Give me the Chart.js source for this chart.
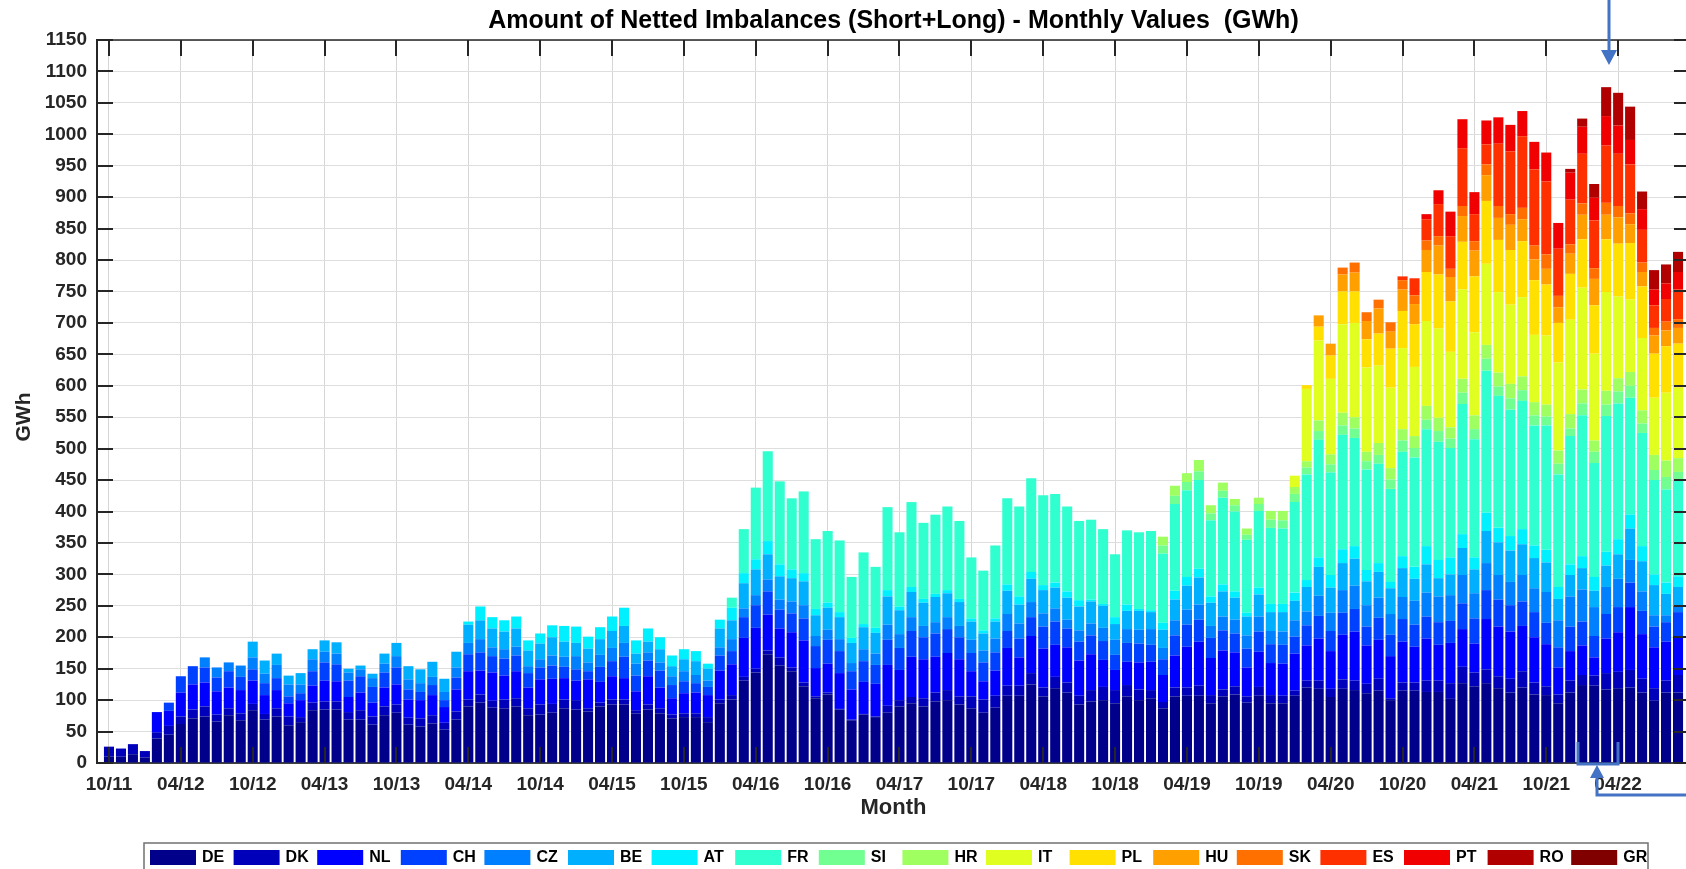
<!DOCTYPE html>
<html>
<head>
<meta charset="utf-8">
<title>Amount of Netted Imbalances</title>
<script src="https://cdn.jsdelivr.net/npm/chart.js@4.4.0/dist/chart.umd.min.js"></script>
<style>
  html, body { margin: 0; padding: 0; overflow: hidden; background: #fff; }
  #wrap { width: 1700px; height: 869px; }
</style>
</head>
<body>
<div id="wrap"><canvas id="imbChart" width="1700" height="869"></canvas></div>
<script>
// month labels 09/11 .. 10/22 (first and last are empty padding months)
const months = [];
for (let y = 2011, m = 9; y < 2022 || m <= 10; ) {
  months.push(String(m).padStart(2, '0') + '/' + String(y).slice(2));
  m++;
  if (m > 12) { m = 1; y++; }
}

const seriesNames = ['DE', 'DK', 'NL', 'CH', 'CZ', 'BE', 'AT', 'FR', 'SI', 'HR', 'IT', 'PL', 'HU', 'SK', 'ES', 'PT', 'RO', 'GR'];
const seriesColors = ['#00008a', '#0000bb', '#0000ff', '#0040ff', '#0080ff', '#00b0ff', '#00f0ff', '#30ffd0', '#70ff90',
  '#a0ff60', '#e0ff20', '#ffe000', '#ffa000', '#ff7000', '#ff3000', '#f00000', '#b00000', '#800000'];

// GWh per month, 10/11 .. 09/22 (one row per calendar year)
const DE = [
  10, 10, 14,
  9, 39, 45, 62, 71, 74, 66, 76, 68, 84, 69, 74,
  60, 65, 84, 85, 85, 69, 69, 61, 76, 80, 61, 58,
  63, 53, 69, 90, 96, 88, 87, 90, 76, 77, 80, 87,
  85, 82, 90, 93, 93, 79, 85, 79, 71, 73, 73, 65,
  95, 101, 131, 144, 173, 155, 146, 122, 103, 109, 85, 68,
  77, 73, 80, 90, 95, 90, 98, 100, 93, 87, 80, 88,
  107, 107, 125, 106, 119, 112, 93, 98, 100, 95, 106, 100,
  103, 87, 106, 107, 107, 95, 106, 109, 96, 107, 95, 95,
  107, 120, 118, 105, 118, 116, 111, 115, 100, 115, 115, 113,
  113, 102, 127, 122, 127, 119, 112, 120, 109, 108, 95, 112,
  124, 123, 117, 119, 120, 112, 99, 112, 112
];
const DK = [
  16, 13, 16,
  10, 10, 14, 12, 14, 16, 11, 11, 11, 10, 9, 13,
  14, 8, 12, 13, 13, 12, 15, 13, 14, 13, 11, 13,
  13, 11, 13, 11, 13, 11, 14, 13, 11, 16, 14, 14,
  15, 5, 6, 8, 8, 5, 8, 8, 6, 6, 6, 8,
  6, 7, 6, 6, 6, 13, 6, 6, 3, 3, 1, 1,
  1, 1, 11, 10, 10, 13, 14, 16, 13, 19, 21, 19,
  16, 16, 18, 14, 18, 16, 14, 18, 21, 21, 18, 17,
  13, 10, 14, 13, 16, 13, 11, 13, 10, 14, 13, 12,
  8, 11, 13, 13, 15, 15, 15, 19, 3, 13, 13, 18,
  18, 25, 26, 22, 22, 19, 22, 26, 19, 14, 14, 19,
  16, 16, 26, 26, 28, 22, 20, 19, 28
];
const NL = [
  0, 0, 0,
  0, 32, 24, 38, 40, 38, 37, 33, 37, 37, 30, 29,
  21, 27, 27, 33, 32, 24, 28, 22, 30, 32, 29, 29,
  32, 25, 35, 45, 38, 45, 38, 43, 33, 40, 40, 34,
  31, 46, 33, 37, 34, 30, 45, 33, 26, 32, 33, 35,
  46, 49, 62, 65, 57, 46, 56, 67, 45, 46, 57, 48,
  51, 52, 65, 48, 64, 62, 57, 59, 59, 40, 29, 40,
  60, 45, 59, 62, 51, 56, 56, 57, 43, 32, 37, 43,
  45, 43, 51, 65, 70, 59, 62, 54, 46, 56, 51, 51,
  59, 56, 67, 60, 71, 78, 61, 62, 67, 65, 57, 67,
  57, 64, 60, 46, 80, 79, 75, 72, 72, 67, 43, 47,
  47, 29, 55, 63, 100, 71, 65, 62, 62
];
const CH = [
  0, 0, 0,
  0, 0, 13, 26, 29, 24, 22, 26, 21, 18, 19, 19,
  11, 11, 23, 29, 27, 26, 26, 25, 24, 27, 16, 13,
  16, 11, 19, 27, 29, 26, 27, 25, 23, 19, 21, 18,
  18, 13, 24, 24, 34, 25, 25, 27, 21, 19, 15, 13,
  24, 21, 33, 36, 37, 30, 30, 35, 35, 38, 35, 29,
  33, 30, 40, 35, 41, 35, 37, 38, 35, 29, 30, 29,
  27, 30, 30, 35, 37, 30, 30, 30, 30, 24, 30, 30,
  27, 25, 32, 35, 35, 32, 32, 30, 30, 32, 30, 30,
  27, 32, 36, 32, 35, 36, 30, 35, 34, 36, 35, 35,
  36, 35, 41, 40, 46, 43, 42, 39, 40, 34, 32, 39,
  38, 34, 39, 40, 39, 37, 33, 31, 38
];
const CZ = [
  0, 0, 0,
  0, 0, 0, 0, 0, 16, 16, 14, 18, 19, 15, 21,
  19, 14, 19, 17, 17, 13, 11, 14, 14, 18, 16, 14,
  13, 13, 16, 18, 21, 14, 15, 14, 11, 13, 16, 16,
  21, 14, 19, 21, 22, 19, 13, 13, 14, 16, 13, 10,
  13, 19, 14, 16, 19, 16, 19, 21, 16, 16, 19, 13,
  19, 18, 24, 22, 22, 18, 18, 19, 18, 21, 19, 22,
  27, 24, 24, 21, 21, 14, 18, 19, 21, 24, 22, 22,
  25, 18, 24, 24, 24, 19, 22, 22, 21, 24, 21, 21,
  26, 22, 32, 29, 36, 37, 34, 32, 33, 35, 38, 38,
  41, 41, 45, 40, 43, 39, 37, 42, 38, 49, 43, 48,
  51, 46, 43, 45, 36, 31, 18, 11, 10
];
const BE = [
  0, 0, 0,
  0, 0, 0, 0, 0, 0, 0, 0, 0, 25, 21, 18,
  14, 18, 16, 18, 18, 6, 6, 7, 16, 21, 21, 22,
  24, 21, 25, 29, 30, 30, 28, 29, 25, 25, 29, 24,
  21, 22, 25, 27, 27, 16, 17, 21, 16, 19, 22, 19,
  30, 30, 40, 41, 40, 37, 37, 38, 33, 35, 35, 32,
  35, 33, 45, 38, 40, 37, 40, 38, 38, 29, 27, 27,
  37, 30, 37, 37, 33, 35, 38, 35, 35, 25, 29, 30,
  27, 29, 33, 38, 43, 37, 40, 35, 30, 35, 30, 31,
  31, 39, 46, 40, 43, 43, 38, 41, 41, 46, 35, 45,
  29, 33, 43, 38, 51, 52, 50, 49, 48, 47, 34, 34,
  34, 26, 34, 39, 50, 48, 48, 34, 30
];
const AT = [
  0, 0, 0,
  0, 0, 0, 0, 0, 0, 0, 0, 0, 0, 0, 0,
  0, 0, 0, 0, 0, 0, 0, 0, 0, 0, 0, 0,
  0, 0, 0, 5, 22, 18, 18, 19, 16, 16, 19, 25,
  26, 19, 19, 23, 29, 21, 21, 19, 17, 16, 16, 8,
  14, 20, 16, 16, 21, 19, 14, 13, 10, 8, 8, 8,
  5, 8, 10, 6, 8, 6, 5, 5, 5, 5, 5, 5,
  10, 13, 11, 8, 8, 10, 10, 3, 3, 11, 10, 3,
  3, 11, 14, 14, 14, 10, 11, 10, 6, 11, 13, 13,
  13, 11, 15, 20, 22, 20, 18, 14, 10, 19, 19, 29,
  29, 27, 22, 19, 29, 23, 23, 24, 20, 20, 19, 17,
  19, 22, 22, 24, 22, 24, 17, 18, 17
];
const FR = [
  0, 0, 0,
  0, 0, 0, 0, 0, 0, 0, 0, 0, 0, 0, 0,
  0, 0, 0, 0, 0, 0, 0, 0, 0, 0, 0, 0,
  0, 0, 0, 0, 0, 0, 0, 0, 0, 0, 0, 0,
  0, 0, 0, 0, 0, 0, 0, 0, 0, 0, 0, 0,
  0, 16, 70, 114, 143, 132, 113, 130, 111, 114, 114, 97,
  114, 97, 132, 118, 135, 121, 126, 133, 124, 97, 95, 116,
  137, 143, 149, 143, 141, 135, 126, 127, 119, 100, 118, 122,
  126, 110, 138, 138, 141, 121, 138, 127, 116, 122, 121, 120,
  144, 168, 187, 163, 182, 172, 160, 158, 148, 166, 174, 186,
  188, 174, 207, 188, 226, 210, 201, 204, 191, 198, 179, 204,
  224, 181, 216, 216, 186, 180, 150, 148, 154
];
const SI = [
  0, 0, 0,
  0, 0, 0, 0, 0, 0, 0, 0, 0, 0, 0, 0,
  0, 0, 0, 0, 0, 0, 0, 0, 0, 0, 0, 0,
  0, 0, 0, 0, 0, 0, 0, 0, 0, 0, 0, 0,
  0, 0, 0, 0, 0, 0, 0, 0, 0, 0, 0, 0,
  0, 0, 0, 0, 0, 0, 0, 0, 0, 0, 0, 0,
  0, 0, 0, 0, 0, 0, 0, 0, 0, 0, 0, 0,
  0, 0, 0, 0, 0, 0, 0, 0, 0, 0, 0, 0,
  0, 13, 13, 13, 14, 11, 11, 10, 8, 11, 13, 13,
  13, 11, 14, 13, 15, 15, 13, 14, 15, 18, 15, 15,
  17, 15, 18, 16, 19, 15, 18, 17, 16, 14, 17, 12,
  19, 18, 18, 19, 19, 15, 16, 20, 12
];
const HR = [
  0, 0, 0,
  0, 0, 0, 0, 0, 0, 0, 0, 0, 0, 0, 0,
  0, 0, 0, 0, 0, 0, 0, 0, 0, 0, 0, 0,
  0, 0, 0, 0, 0, 0, 0, 0, 0, 0, 0, 0,
  0, 0, 0, 0, 0, 0, 0, 0, 0, 0, 0, 0,
  0, 0, 0, 0, 0, 0, 0, 0, 0, 0, 0, 0,
  0, 0, 0, 0, 0, 0, 0, 0, 0, 0, 0, 0,
  0, 0, 0, 0, 0, 0, 0, 0, 0, 0, 0, 0,
  0, 14, 16, 14, 18, 13, 13, 10, 10, 10, 14, 15,
  11, 10, 17, 16, 20, 18, 15, 19, 18, 18, 19, 22,
  21, 18, 22, 22, 22, 22, 23, 22, 21, 19, 21, 23,
  22, 18, 22, 21, 22, 21, 24, 26, 22
];
const IT = [
  0, 0, 0,
  0, 0, 0, 0, 0, 0, 0, 0, 0, 0, 0, 0,
  0, 0, 0, 0, 0, 0, 0, 0, 0, 0, 0, 0,
  0, 0, 0, 0, 0, 0, 0, 0, 0, 0, 0, 0,
  0, 0, 0, 0, 0, 0, 0, 0, 0, 0, 0, 0,
  0, 0, 0, 0, 0, 0, 0, 0, 0, 0, 0, 0,
  0, 0, 0, 0, 0, 0, 0, 0, 0, 0, 0, 0,
  0, 0, 0, 0, 0, 0, 0, 0, 0, 0, 0, 0,
  0, 0, 0, 0, 0, 0, 0, 0, 0, 0, 0, 0,
  18, 115, 127, 120, 141, 150, 134, 123, 128, 129, 110, 135,
  142, 120, 142, 132, 129, 128, 126, 126, 107, 110, 140, 150,
  162, 138, 157, 130, 115, 115, 91, 108, 112
];
const PL = [
  0, 0, 0,
  0, 0, 0, 0, 0, 0, 0, 0, 0, 0, 0, 0,
  0, 0, 0, 0, 0, 0, 0, 0, 0, 0, 0, 0,
  0, 0, 0, 0, 0, 0, 0, 0, 0, 0, 0, 0,
  0, 0, 0, 0, 0, 0, 0, 0, 0, 0, 0, 0,
  0, 0, 0, 0, 0, 0, 0, 0, 0, 0, 0, 0,
  0, 0, 0, 0, 0, 0, 0, 0, 0, 0, 0, 0,
  0, 0, 0, 0, 0, 0, 0, 0, 0, 0, 0, 0,
  0, 0, 0, 0, 0, 0, 0, 0, 0, 0, 0, 0,
  0, 6, 22, 37, 52, 50, 45, 51, 62, 59, 68, 78,
  86, 80, 76, 89, 100, 83, 87, 89, 87, 81, 63, 73,
  77, 77, 84, 84, 90, 82, 70, 74, 70
];
const HU = [
  0, 0, 0,
  0, 0, 0, 0, 0, 0, 0, 0, 0, 0, 0, 0,
  0, 0, 0, 0, 0, 0, 0, 0, 0, 0, 0, 0,
  0, 0, 0, 0, 0, 0, 0, 0, 0, 0, 0, 0,
  0, 0, 0, 0, 0, 0, 0, 0, 0, 0, 0, 0,
  0, 0, 0, 0, 0, 0, 0, 0, 0, 0, 0, 0,
  0, 0, 0, 0, 0, 0, 0, 0, 0, 0, 0, 0,
  0, 0, 0, 0, 0, 0, 0, 0, 0, 0, 0, 0,
  0, 0, 0, 0, 0, 0, 0, 0, 0, 0, 0, 0,
  0, 0, 18, 19, 27, 30, 29, 40, 27, 34, 32, 35,
  46, 39, 41, 41, 41, 35, 40, 35, 33, 25, 25, 32,
  39, 42, 39, 42, 30, 23, 29, 25, 25
];
const SK = [
  0, 0, 0,
  0, 0, 0, 0, 0, 0, 0, 0, 0, 0, 0, 0,
  0, 0, 0, 0, 0, 0, 0, 0, 0, 0, 0, 0,
  0, 0, 0, 0, 0, 0, 0, 0, 0, 0, 0, 0,
  0, 0, 0, 0, 0, 0, 0, 0, 0, 0, 0, 0,
  0, 0, 0, 0, 0, 0, 0, 0, 0, 0, 0, 0,
  0, 0, 0, 0, 0, 0, 0, 0, 0, 0, 0, 0,
  0, 0, 0, 0, 0, 0, 0, 0, 0, 0, 0, 0,
  0, 0, 0, 0, 0, 0, 0, 0, 0, 0, 0, 0,
  0, 0, 0, 0, 11, 16, 14, 14, 15, 15, 14, 15,
  15, 13, 16, 15, 17, 19, 17, 18, 22, 23, 18, 15,
  18, 17, 19, 18, 17, 15, 12, 14, 14
];
const ES = [
  0, 0, 0,
  0, 0, 0, 0, 0, 0, 0, 0, 0, 0, 0, 0,
  0, 0, 0, 0, 0, 0, 0, 0, 0, 0, 0, 0,
  0, 0, 0, 0, 0, 0, 0, 0, 0, 0, 0, 0,
  0, 0, 0, 0, 0, 0, 0, 0, 0, 0, 0, 0,
  0, 0, 0, 0, 0, 0, 0, 0, 0, 0, 0, 0,
  0, 0, 0, 0, 0, 0, 0, 0, 0, 0, 0, 0,
  0, 0, 0, 0, 0, 0, 0, 0, 0, 0, 0, 0,
  0, 0, 0, 0, 0, 0, 0, 0, 0, 0, 0, 0,
  0, 0, 0, 0, 0, 0, 0, 0, 0, 6, 27, 34,
  51, 52, 92, 43, 32, 99, 100, 114, 121, 116, 75, 71,
  79, 76, 91, 83, 78, 52, 36, 36, 47
];
const PT = [
  0, 0, 0,
  0, 0, 0, 0, 0, 0, 0, 0, 0, 0, 0, 0,
  0, 0, 0, 0, 0, 0, 0, 0, 0, 0, 0, 0,
  0, 0, 0, 0, 0, 0, 0, 0, 0, 0, 0, 0,
  0, 0, 0, 0, 0, 0, 0, 0, 0, 0, 0, 0,
  0, 0, 0, 0, 0, 0, 0, 0, 0, 0, 0, 0,
  0, 0, 0, 0, 0, 0, 0, 0, 0, 0, 0, 0,
  0, 0, 0, 0, 0, 0, 0, 0, 0, 0, 0, 0,
  0, 0, 0, 0, 0, 0, 0, 0, 0, 0, 0, 0,
  0, 0, 0, 0, 0, 0, 0, 0, 0, 0, 0, 8,
  22, 39, 46, 35, 38, 42, 42, 40, 44, 46, 41, 43,
  43, 36, 47, 45, 39, 33, 25, 25, 28
];
const RO = [
  0, 0, 0,
  0, 0, 0, 0, 0, 0, 0, 0, 0, 0, 0, 0,
  0, 0, 0, 0, 0, 0, 0, 0, 0, 0, 0, 0,
  0, 0, 0, 0, 0, 0, 0, 0, 0, 0, 0, 0,
  0, 0, 0, 0, 0, 0, 0, 0, 0, 0, 0, 0,
  0, 0, 0, 0, 0, 0, 0, 0, 0, 0, 0, 0,
  0, 0, 0, 0, 0, 0, 0, 0, 0, 0, 0, 0,
  0, 0, 0, 0, 0, 0, 0, 0, 0, 0, 0, 0,
  0, 0, 0, 0, 0, 0, 0, 0, 0, 0, 0, 0,
  0, 0, 0, 0, 0, 0, 0, 0, 0, 0, 0, 0,
  0, 0, 0, 0, 0, 0, 0, 0, 0, 0, 0, 6,
  13, 22, 46, 52, 53, 28, 31, 30, 32
];
const GR = [
  0, 0, 0,
  0, 0, 0, 0, 0, 0, 0, 0, 0, 0, 0, 0,
  0, 0, 0, 0, 0, 0, 0, 0, 0, 0, 0, 0,
  0, 0, 0, 0, 0, 0, 0, 0, 0, 0, 0, 0,
  0, 0, 0, 0, 0, 0, 0, 0, 0, 0, 0, 0,
  0, 0, 0, 0, 0, 0, 0, 0, 0, 0, 0, 0,
  0, 0, 0, 0, 0, 0, 0, 0, 0, 0, 0, 0,
  0, 0, 0, 0, 0, 0, 0, 0, 0, 0, 0, 0,
  0, 0, 0, 0, 0, 0, 0, 0, 0, 0, 0, 0,
  0, 0, 0, 0, 0, 0, 0, 0, 0, 0, 0, 0,
  0, 0, 0, 0, 0, 0, 0, 0, 0, 0, 0, 0,
  0, 0, 0, 0, 0, 0, 0, 0, 0
];

const yTicks = [];
for (let v = 0; v <= 1150; v += 50) yTicks.push(v);

const seriesData = [DE, DK, NL, CH, CZ, BE, AT, FR, SI, HR, IT, PL, HU, SK, ES, PT, RO, GR];
const FONT = '"Liberation Sans", Arial, Helvetica, sans-serif';
const isMarked = (lbl) => lbl && (lbl.startsWith('04/') || lbl.startsWith('10/')) && lbl !== '10/22';

const datasets = seriesNames.map((name, i) => ({
  label: name,
  // pad month 09/11 in front and 10/22 at the end
  data: [null].concat(seriesData[i], [null]),
  backgroundColor: seriesColors[i],
  borderWidth: 0,
  barPercentage: 0.84,
  categoryPercentage: 1.0
}));

// MATLAB-like frame: inward ticks, title, legend box, blue annotations
const framePlugin = {
  id: 'frame',
  afterDraw(chart) {
    const ctx = chart.ctx;
    const a = chart.chartArea;
    const xs = chart.scales.x, ys = chart.scales.y;
    ctx.save();

    // top + right border
    ctx.strokeStyle = '#262626';
    ctx.lineWidth = 1.5;
    ctx.beginPath();
    ctx.moveTo(a.left, a.top); ctx.lineTo(a.right, a.top); ctx.lineTo(a.right, a.bottom);
    ctx.stroke();

    // inward ticks
    ctx.lineWidth = 2;
    ctx.beginPath();
    yTicks.forEach(v => {
      const y = Math.round(ys.getPixelForValue(v));
      ctx.moveTo(a.left, y); ctx.lineTo(a.left + 16, y);
      ctx.moveTo(a.right, y); ctx.lineTo(a.right - 16, y);
    });
    months.forEach((m, i) => {
      if (!isMarked(m)) return;
      const x = Math.round(xs.getPixelForValue(i));
      ctx.moveTo(x, a.bottom); ctx.lineTo(x, a.bottom - 16);
      ctx.moveTo(x, a.top); ctx.lineTo(x, a.top + 16);
    });
    ctx.stroke();

    // title
    ctx.fillStyle = '#000';
    ctx.font = 'bold 25px ' + FONT;
    ctx.textAlign = 'center';
    ctx.textBaseline = 'middle';
    ctx.fillText('Amount of Netted Imbalances (Short+Long) - Monthly Values  (GWh)', (a.left + a.right) / 2, 21);

    // y axis title
    ctx.save();
    ctx.translate(24, 417);
    ctx.rotate(-Math.PI / 2);
    ctx.fillStyle = '#262626';
    ctx.font = 'bold 21px ' + FONT;
    ctx.fillText('GWh', 0, 0);
    ctx.restore();

    // legend
    const lgLeft = 144, lgTop = 843, lgRight = 1648;
    ctx.fillStyle = '#fff';
    ctx.fillRect(lgLeft, lgTop, lgRight - lgLeft, 40);
    ctx.strokeStyle = '#707070';
    ctx.lineWidth = 1.5;
    ctx.strokeRect(lgLeft, lgTop, lgRight - lgLeft, 40);
    ctx.font = 'bold 16px ' + FONT;
    ctx.textAlign = 'left';
    seriesNames.forEach((name, i) => {
      const x = 150 + i * 83.6;
      ctx.fillStyle = seriesColors[i];
      ctx.fillRect(x, 850, 46, 15);
      ctx.fillStyle = '#000';
      ctx.fillText(name, x + 52, 858);
    });

    // blue annotation marks
    ctx.strokeStyle = '#4472c4';
    ctx.fillStyle = '#4472c4';
    ctx.lineWidth = 3;
    ctx.beginPath();
    ctx.moveTo(1609, 0); ctx.lineTo(1609, 52);
    ctx.moveTo(1578, 742); ctx.lineTo(1578, 764); ctx.lineTo(1618, 764); ctx.lineTo(1618, 742);
    ctx.moveTo(1597, 776); ctx.lineTo(1597, 795); ctx.lineTo(1700, 795);
    ctx.stroke();
    ctx.beginPath();
    ctx.moveTo(1601, 50); ctx.lineTo(1617, 50); ctx.lineTo(1609, 65); ctx.closePath();
    ctx.moveTo(1597, 765); ctx.lineTo(1590, 778); ctx.lineTo(1604, 778); ctx.closePath();
    ctx.fill();

    ctx.restore();
  }
};

new Chart(document.getElementById('imbChart'), {
  type: 'bar',
  data: { labels: months, datasets: datasets },
  options: {
    responsive: false,
    animation: false,
    devicePixelRatio: 1,
    layout: { padding: { top: 40, right: 6, left: 0, bottom: 0 } },
    plugins: {
      legend: { display: false },
      title: { display: false },
      tooltip: { enabled: false }
    },
    scales: {
      x: {
        stacked: true,
        offset: false,
        grid: {
          offset: false,
          drawTicks: false,
          lineWidth: 1,
          color: (c) => isMarked(months[c.index]) ? '#d6d6d6' : 'rgba(0,0,0,0)'
        },
        border: { display: true, color: '#404040', width: 2 },
        ticks: {
          autoSkip: false,
          maxRotation: 0,
          padding: 10,
          color: '#262626',
          font: { family: FONT, size: 19, weight: 'bold' },
          callback: (v, i) => isMarked(months[i]) ? months[i] : ''
        },
        title: {
          display: true,
          text: 'Month',
          color: '#262626',
          font: { family: FONT, size: 22, weight: 'bold' },
          padding: { top: 0, bottom: 48 }
        },
        afterFit: (s) => { s.height = 106; }
      },
      y: {
        stacked: true,
        min: 0,
        max: 1150,
        grid: { drawTicks: false, color: '#dedede', lineWidth: 1 },
        border: { display: true, color: '#262626', width: 2 },
        ticks: {
          stepSize: 50,
          padding: 10,
          color: '#262626',
          font: { family: FONT, size: 19, weight: 'bold' },
          callback: (v) => String(v)
        },
        title: { display: false },
        afterFit: (s) => { s.width = 97; }
      }
    }
  },
  plugins: [framePlugin]
});
</script>
</body>
</html>
